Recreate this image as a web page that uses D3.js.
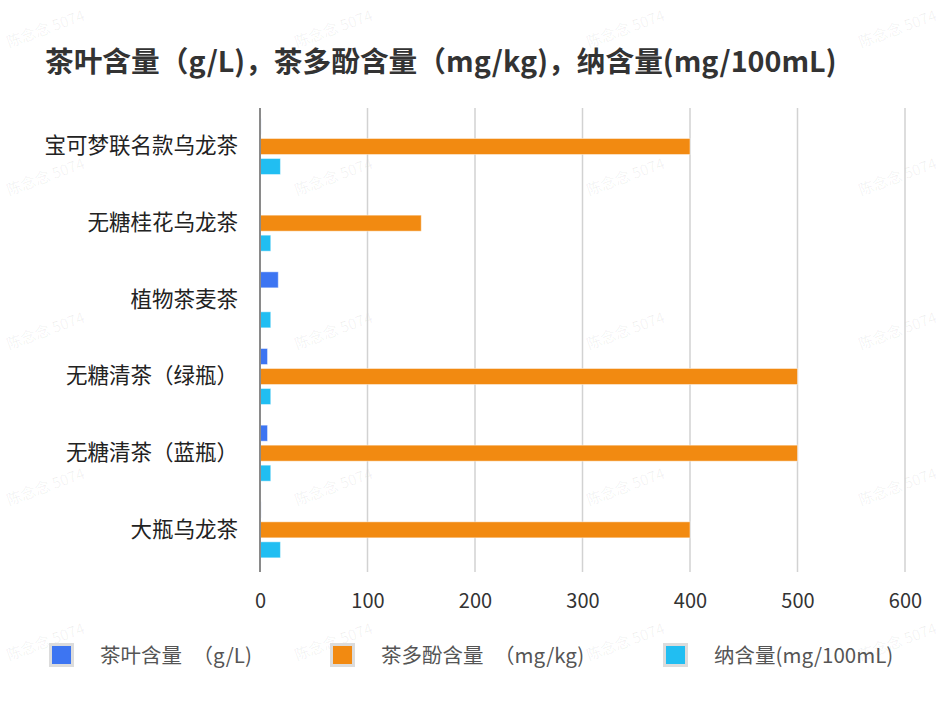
<!DOCTYPE html>
<html>
<head>
<meta charset="utf-8">
<script src="https://cdn.jsdelivr.net/npm/d3@7/dist/d3.min.js"></script>
<style>
  html, body { margin: 0; padding: 0; background: #fff; }
  svg { display: block; font-family: "Noto Sans CJK SC", "Noto Sans", sans-serif; }
</style>
</head>
<body>
<svg id="chart" width="946" height="728"></svg>
<script>
const title = "茶叶含量（g/L)，茶多酚含量（mg/kg)，纳含量(mg/100mL)";
const categories = ["宝可梦联名款乌龙茶", "无糖桂花乌龙茶", "植物茶麦茶", "无糖清茶（绿瓶）", "无糖清茶（蓝瓶）", "大瓶乌龙茶"];
const seriesNames = ["茶叶含量 （g/L)", "茶多酚含量 （mg/kg)", "纳含量(mg/100mL)"];
const teaLeaf = [1, 0.5, 17, 7, 7, 1];
const polyphenol = [400, 150, 0, 500, 500, 400];
const sodium = [19, 10, 10, 10, 10, 19];
const xTicks = [0, 100, 200, 300, 400, 500, 600];
const colors = ["#3D75F2", "#F28A11", "#21BEF2"];
const watermarkText = "陈念念 5074";

const seriesValues = [teaLeaf, polyphenol, sodium];
const svg = d3.select("#chart");

// watermark
const wm = svg.append("g");
const wmCols = [46, 334, 626, 898];
const wmRows = [30, 178, 332, 488, 643];
wmRows.forEach(yy => wmCols.forEach(xx => {
  wm.append("text")
    .attr("transform", `translate(${xx},${yy}) rotate(-20)`)
    .attr("text-anchor", "middle")
    .attr("dominant-baseline", "middle")
    .attr("font-size", 15)
    .attr("fill", "#000")
    .attr("fill-opacity", 0.06)
    .text(watermarkText);
}));

// title
svg.append("text")
  .attr("x", 45).attr("y", 72)
  .attr("font-size", 28.7).attr("font-weight", "bold")
  .attr("fill", "#333")
  .text(title);

const plotLeft = 260, plotRight = 905, plotTop = 108, plotBottom = 568;
const x = d3.scaleLinear().domain([0, 600]).range([plotLeft, plotRight]);
const y = d3.scaleBand().domain(categories).range([plotTop, plotBottom]);
const yInner = d3.scaleBand().domain(seriesNames).range([10.5, 66.5]).paddingInner(0.2);

// grid
svg.append("g").selectAll("line").data(xTicks.filter(t => t > 0)).join("line")
  .attr("x1", d => x(d)).attr("x2", d => x(d))
  .attr("y1", plotTop).attr("y2", plotBottom + 4)
  .attr("stroke", "#d2d2d2").attr("stroke-width", 1.5);

// bars
const groups = svg.append("g").selectAll("g").data(categories).join("g")
  .attr("transform", d => `translate(0,${y(d)})`);
groups.selectAll("rect")
  .data((c, i) => seriesNames.map((s, j) => ({ s, j, v: seriesValues[j][i] })))
  .join("rect")
  .attr("x", x(0))
  .attr("y", d => yInner(d.s))
  .attr("width", d => x(d.v) - x(0))
  .attr("height", yInner.bandwidth())
  .attr("fill", d => colors[d.j])
  .attr("stroke", "rgba(255,255,255,0.45)")
  .attr("stroke-width", 1);

// axis line
svg.append("line")
  .attr("x1", x(0)).attr("x2", x(0))
  .attr("y1", plotTop).attr("y2", plotBottom + 4)
  .attr("stroke", "#8a8a8a").attr("stroke-width", 2);

// x tick labels
const xAxis = d3.axisBottom(x).tickValues(xTicks).tickSize(0).tickPadding(0);
const xg = svg.append("g").attr("transform", `translate(0,${plotBottom})`).call(xAxis);
xg.select(".domain").remove();
xg.selectAll("text")
  .attr("y", 40).attr("dy", 0)
  .attr("font-size", 20).attr("fill", "#333")
  .attr("font-family", "\"Noto Sans CJK SC\", sans-serif");

// y labels
const yAxis = d3.axisLeft(y).tickSize(0).tickPadding(0);
const yg = svg.append("g").attr("transform", `translate(238,0)`).call(yAxis);
yg.select(".domain").remove();
yg.selectAll("text")
  .attr("font-size", 21.5).attr("fill", "#222")
  .attr("font-family", "\"Noto Sans CJK SC\", sans-serif");

// legend
const legendX = [52, 333, 666];
const legendTextX = [100, 381, 714];
const lg = svg.append("g");
seriesNames.forEach((s, i) => {
  lg.append("rect")
    .attr("x", legendX[i] - 1.5).attr("y", 644.5)
    .attr("width", 22).attr("height", 21)
    .attr("fill", colors[i]).attr("stroke", "#dcdcdc").attr("stroke-width", 3);
  lg.append("text")
    .attr("x", legendTextX[i]).attr("y", 663)
    .attr("font-size", 20.5).attr("fill", "#555")
    .attr("word-spacing", 6)
    .text(s);
});
</script>
</body>
</html>
